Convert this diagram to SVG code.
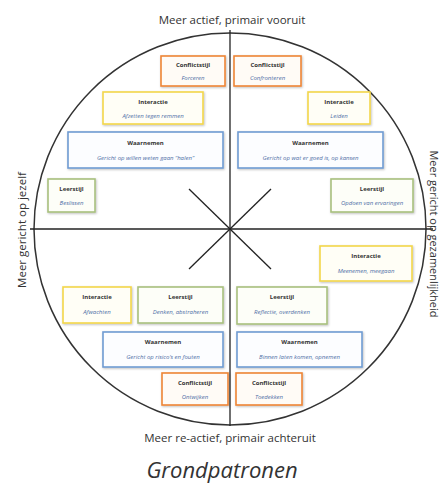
<svg xmlns="http://www.w3.org/2000/svg" width="442" height="485" viewBox="0 0 442 485">
<defs>
<filter id="sh" x="-10%" y="-10%" width="120%" height="130%">
<feDropShadow dx="0.8" dy="1" stdDeviation="0.8" flood-color="#000" flood-opacity="0.25"/>
</filter>
<style>
.axis{font-family:"Open Sans","Liberation Sans",sans-serif;font-size:11.5px;fill:#333;text-anchor:middle}
.box{stroke-width:1.6;filter:url(#sh)}
.o{stroke:#EE8536;fill:#FFFBF6}
.y{stroke:#F3D64A;fill:#FFFEF6}
.b{stroke:#6F9BD2;fill:#FCFDFF}
.g{stroke:#A8C07E;fill:#FDFEF8}
.h{font-family:"Open Sans","Liberation Sans",sans-serif;font-size:6px;font-weight:bold;fill:#333;text-anchor:middle}
.t{font-family:"Open Sans","Liberation Sans",sans-serif;font-size:6px;font-style:italic;fill:#4F6EA6;text-anchor:middle}
.ln{stroke:#222;stroke-width:1.3;fill:none}
</style>
</defs>
<rect width="442" height="485" fill="#fff"/>
<g id="connectors">
<circle cx="230" cy="229" r="196" fill="none" stroke="#333" stroke-width="1.5"/>
<line class="ln" x1="230" y1="30" x2="230" y2="426"/>
<line class="ln" x1="30" y1="229" x2="433" y2="229"/>
<line class="ln" x1="189" y1="189" x2="271" y2="269"/>
<line class="ln" x1="189" y1="269" x2="271" y2="189"/>
</g>
<text class="axis" x="232" y="24">Meer actief, primair vooruit</text>
<text class="axis" x="230" y="442">Meer re-actief, primair achteruit</text>
<text class="axis" transform="translate(26,230) rotate(-90)">Meer gericht op jezelf</text>
<text class="axis" font-size="11" style="font-size:11px" transform="translate(430,234) rotate(90)">Meer gericht op gezamenlijkheid</text>
<text x="222" y="478" font-family="Open Sans, Liberation Sans, sans-serif" font-size="22" font-style="italic" fill="#333" text-anchor="middle">Grondpatronen</text>

<g id="n1"><rect class="box o" x="161" y="56" width="64" height="30"/><text class="h" x="193" y="67">Conflictstijl</text><text class="t" x="193" y="80">Forceren</text></g>
<g id="n2"><rect class="box o" x="234" y="56" width="67" height="30"/><text class="h" x="267.5" y="67">Conflictstijl</text><text class="t" x="267.5" y="80">Confronteren</text></g>
<g id="n3"><rect class="box y" x="103" y="92" width="100" height="32"/><text class="h" x="153" y="104">Interactie</text><text class="t" x="153" y="118">Afzetten tegen remmen</text></g>
<g id="n4"><rect class="box y" x="308" y="92" width="62" height="32"/><text class="h" x="339" y="104">Interactie</text><text class="t" x="339" y="118">Leiden</text></g>
<g id="n5"><rect class="box b" x="68" y="132" width="155" height="36"/><text class="h" x="145.5" y="145">Waarnemen</text><text class="t" x="145.5" y="160">Gericht op willen weten gaan “halen”</text></g>
<g id="n6"><rect class="box b" x="238" y="132" width="145" height="36"/><text class="h" x="310.5" y="145">Waarnemen</text><text class="t" x="310.5" y="160">Gericht op wat er goed is, op kansen</text></g>
<g id="n7"><rect class="box g" x="48" y="179" width="47" height="33"/><text class="h" x="71.5" y="191">Leerstijl</text><text class="t" x="71.5" y="205">Beslissen</text></g>
<g id="n8"><rect class="box g" x="331" y="179" width="82" height="33"/><text class="h" x="372" y="191">Leerstijl</text><text class="t" x="372" y="205">Opdoen van ervaringen</text></g>
<g id="n9"><rect class="box y" x="320" y="246" width="92" height="35"/><text class="h" x="366" y="258">Interactie</text><text class="t" x="366" y="273">Meenemen, meegaan</text></g>
<g id="n10"><rect class="box y" x="63" y="287" width="68" height="36"/><text class="h" x="97" y="299">Interactie</text><text class="t" x="97" y="314">Afwachten</text></g>
<g id="n11"><rect class="box g" x="138" y="287" width="85" height="36"/><text class="h" x="180.5" y="299">Leerstijl</text><text class="t" x="180.5" y="314">Denken, abstraheren</text></g>
<g id="n12"><rect class="box g" x="237" y="287" width="90" height="37"/><text class="h" x="282" y="299">Leerstijl</text><text class="t" x="282" y="314">Reflectie, overdenken</text></g>
<g id="n13"><rect class="box b" x="103" y="332" width="120" height="35"/><text class="h" x="163" y="344">Waarnemen</text><text class="t" x="163" y="359">Gericht op risico’s en fouten</text></g>
<g id="n14"><rect class="box b" x="237" y="332" width="125" height="35"/><text class="h" x="299.5" y="344">Waarnemen</text><text class="t" x="299.5" y="359">Binnen laten komen, opnemen</text></g>
<g id="n15"><rect class="box o" x="162" y="373" width="66" height="32"/><text class="h" x="195" y="385">Conflictstijl</text><text class="t" x="195" y="399">Ontwijken</text></g>
<g id="n16"><rect class="box o" x="236" y="373" width="66" height="32"/><text class="h" x="269" y="385">Conflictstijl</text><text class="t" x="269" y="399">Toedekken</text></g>
</svg>
